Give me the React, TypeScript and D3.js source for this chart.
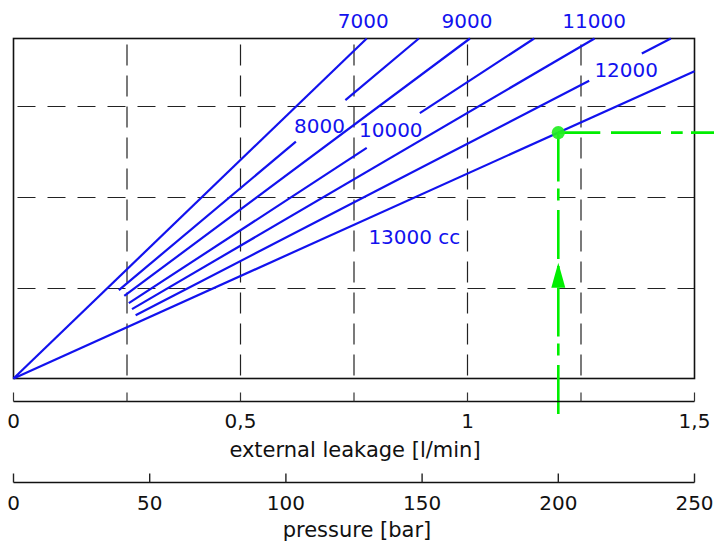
import React from 'react';
import * as d3 from 'd3';

// ---- data ----
const displacementLabels = ['7000', '8000', '9000', '10000', '11000', '12000', '13000 cc'];
// leakage-chart slope (grid units per l/min)
const lineSlopes = [4.82, 4.2, 3.73, 3.27, 2.93, 2.59, 2.26];
// leakage value where each curve starts
const lineStarts = [0, 0.232, 0.244, 0.254, 0.261, 0.269, 0];
// gaps in the curves left for the labels (leakage range)
const lineGaps: (number[] | null)[] = [null, [0.622, 0.731], null, [0.778, 0.895], null, [1.268, 1.384], null];
// label anchors (leakage, grid units)
const labelX = [0.7705, 0.674, 0.999, 0.831, 1.279, 1.3496, 0.883];
const labelY = [3.862, 2.704, 3.862, 2.667, 3.862, 3.329, 1.483];

const leakageTicks = [0, 0.25, 0.5, 0.75, 1, 1.25, 1.5];
const leakageTickLabels = [
  { v: 0, t: '0' },
  { v: 0.5, t: '0,5' },
  { v: 1, t: '1' },
  { v: 1.5, t: '1,5' },
];
const pressureTicks = [0, 50, 100, 150, 200, 250];
const verticalGrid = [0.25, 0.5, 0.75, 1, 1.25];
const horizontalGrid = [1, 2, 3];
const operatingPressure = 200;
const operatingCurve = 6;

const W = 714;
const H = 547;

export default function App() {
  const x = d3.scaleLinear().domain([0, 1.5]).range([13.5, 694.5]);
  const y = d3.scaleLinear().domain([0, 3.75]).range([378.5, 38.5]);
  const p = d3.scaleLinear().domain([0, 250]).range([13.5, 694.5]);

  const line = d3
    .line<[number, number]>()
    .x((d) => x(d[0]))
    .y((d) => y(d[1]));

  const blue = '#1212ee';
  const green = '#00ee00';
  const font = '"DejaVu Sans", Verdana, sans-serif';

  const curves = lineSlopes.map((s, i) => {
    const xEnd = Math.min(1.5, 3.75 / s);
    const x0 = lineStarts[i];
    const gap = lineGaps[i];
    const segs: [number, number][][] = [];
    if (gap) {
      segs.push([
        [x0, s * x0],
        [gap[0], s * gap[0]],
      ]);
      segs.push([
        [gap[1], s * gap[1]],
        [xEnd, s * xEnd],
      ]);
    } else {
      segs.push([
        [x0, s * x0],
        [xEnd, s * xEnd],
      ]);
    }
    return segs;
  });

  const leakAtOp = x.invert(p(operatingPressure));
  const mx = p(operatingPressure);
  const my = y(lineSlopes[operatingCurve] * leakAtOp);

  const leakAxisY = 401;
  const presAxisY = 482;

  return (
    <svg
      width={W}
      height={H}
      style={{ position: 'absolute', left: 0, top: 0, background: '#fff' }}
      fontFamily={font}
    >
      {/* grid */}
      {verticalGrid.map((v) => (
        <line
          key={'vg' + v}
          x1={x(v)}
          x2={x(v)}
          y1={y(3.75)}
          y2={y(0)}
          stroke="#222"
          strokeWidth={1.2}
          strokeDasharray="21,10"
          strokeDashoffset={-6}
        />
      ))}
      {horizontalGrid.map((v) => (
        <line
          key={'hg' + v}
          x1={x(0)}
          x2={x(1.5)}
          y1={Math.round(y(v)) + 0.5}
          y2={Math.round(y(v)) + 0.5}
          stroke="#222"
          strokeWidth={1.2}
          strokeDasharray="18,12"
          strokeDashoffset={-4}
        />
      ))}
      {/* frame */}
      <rect
        x={x(0)}
        y={y(3.75)}
        width={x(1.5) - x(0)}
        height={y(0) - y(3.75)}
        fill="none"
        stroke="#111"
        strokeWidth={1.6}
      />

      {/* curves */}
      {curves.map((segs, i) =>
        segs.map((seg, j) => (
          <path key={'c' + i + '-' + j} d={line(seg) || ''} stroke={blue} strokeWidth={2.2} fill="none" />
        ))
      )}
      {displacementLabels.map((t, i) => (
        <text key={'l' + t} x={x(labelX[i])} y={y(labelY[i])} fill={blue} fontSize={20} textAnchor="middle">
          {t}
        </text>
      ))}

      {/* operating point */}
      <line
        x1={mx}
        x2={W}
        y1={my}
        y2={my}
        stroke={green}
        strokeWidth={2.6}
        strokeDasharray="42,10.7,50,10,11.7,8.3,60"
      />
      <line
        x1={mx}
        x2={mx}
        y1={my}
        y2={417}
        stroke={green}
        strokeWidth={2.6}
        strokeDasharray="49,7,12,9.5"
      />
      <path
        d={`M${mx},${y(1) - 25}L${mx + 7},${y(1)}L${mx - 7},${y(1)}Z`}
        fill={green}
      />
      <circle cx={mx} cy={my} r={6.6} fill="#22ee22" fillOpacity={0.92} />

      {/* leakage axis */}
      <line x1={x(0)} x2={x(1.5)} y1={leakAxisY + 0.5} y2={leakAxisY + 0.5} stroke="#111" strokeWidth={1.3} />
      {leakageTicks.map((v) => (
        <line
          key={'lt' + v}
          x1={x(v)}
          x2={x(v)}
          y1={leakAxisY - 8.5}
          y2={leakAxisY + 0.5}
          stroke="#333"
          strokeWidth={1.2}
        />
      ))}
      {leakageTickLabels.map((d) => (
        <text key={'ltl' + d.v} x={x(d.v)} y={428} fontSize={20} textAnchor="middle" fill="#111">
          {d.t}
        </text>
      ))}
      <text x={355} y={457} fontSize={21} textAnchor="middle" fill="#111">
        external leakage [l/min]
      </text>

      {/* pressure axis */}
      <line x1={p(0)} x2={p(250)} y1={presAxisY + 0.5} y2={presAxisY + 0.5} stroke="#111" strokeWidth={1.3} />
      {pressureTicks.map((v) => (
        <line
          key={'pt' + v}
          x1={p(v)}
          x2={p(v)}
          y1={presAxisY - 8.5}
          y2={presAxisY + 0.5}
          stroke="#222"
          strokeWidth={1.4}
        />
      ))}
      {pressureTicks.map((v) => (
        <text key={'ptl' + v} x={p(v)} y={509.5} fontSize={20} textAnchor="middle" fill="#111">
          {v}
        </text>
      ))}
      <text x={357} y={537} fontSize={21} textAnchor="middle" fill="#111">
        pressure [bar]
      </text>
    </svg>
  );
}
